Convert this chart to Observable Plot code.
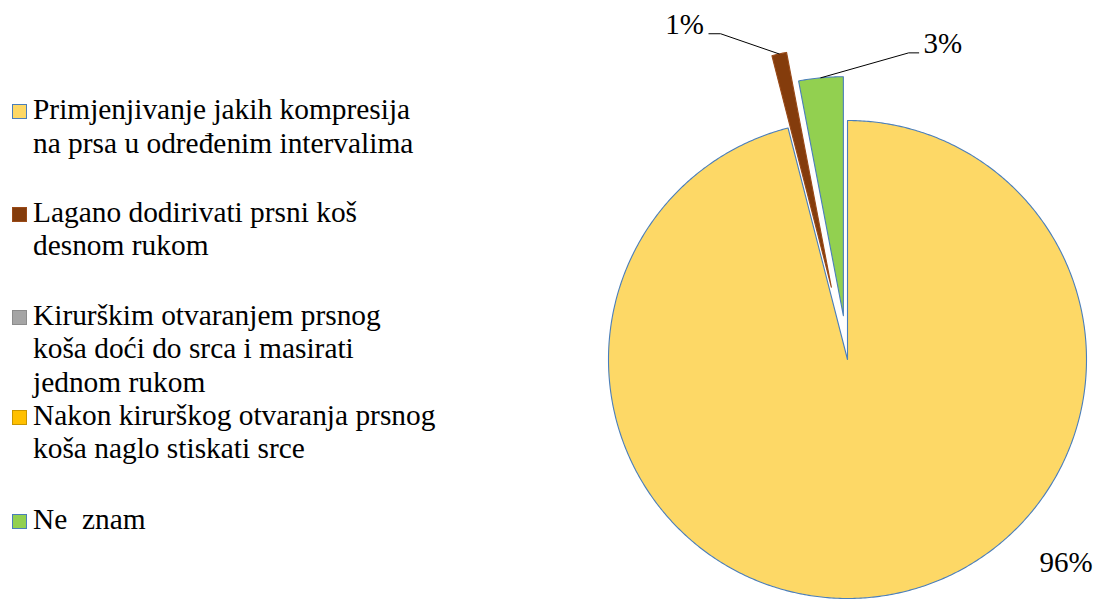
<!DOCTYPE html>
<html>
<head>
<meta charset="utf-8">
<script src="https://cdn.jsdelivr.net/npm/d3@7"></script>
<script src="https://cdn.jsdelivr.net/npm/@observablehq/plot@0.6"></script>
<style>
  html, body { margin: 0; padding: 0; background: #fff; }
  #wrap { position: relative; width: 1099px; height: 599px; overflow: hidden; }
  #chart { position: absolute; left: 0; top: 0; }
  .legend-item { position: absolute; left: 0; font-family: "Liberation Serif", "Times New Roman", serif; font-size: 29.4px; line-height: 33.5px; color: #000; white-space: pre; }
  .legend-item .sw { position: absolute; left: 12px; top: 11px; width: 15px; height: 15px; box-sizing: border-box; border: 1.2px solid; }
  .legend-item .tx { position: absolute; left: 33px; top: 0; }
</style>
</head>
<body>
<div id="wrap">
  <div id="chart"></div>
  <div id="legend"></div>
</div>
<script>
// ---- data ----
const categories = [
  "Primjenjivanje jakih kompresija\nna prsa u određenim intervalima",
  "Lagano dodirivati prsni koš\ndesnom rukom",
  "Kirurškim otvaranjem prsnog\nkoša doći do srca i masirati\njednom rukom",
  "Nakon kirurškog otvaranja prsnog\nkoša naglo stiskati srce",
  "Ne  znam"
];
const values = [96, 1, 0, 0, 3];
const valueLabels = ["96%", "1%", "", "", "3%"];

// ---- style ----
const fills = ["#FDD866", "#843C0C", "#A5A5A5", "#FFC000", "#92D050"];
const strokes = ["#4A7EBB", "#9A4A18", "#8C8C8C", "#C89600", "#4A7EBB"];
const explode = [0, 0.31, 0, 0, 0.184];
// label layout (in radius units, centre = 0,0)
const labelPos = [[0.803, -0.851, "start"], [-0.601, 1.402, "end"], null, null, [0.318, 1.322, "start"]];
const leaderElbow = [null, [[-0.580, 1.363], [-0.531, 1.363]], null, null, [[0.298, 1.283], [0.256, 1.283]]];

const W = 1099, H = 599, cx = 847, cy = 359, R = 239;

const total = d3.sum(values);
let cum = 0;
const slices = values.map((v, i) => {
  const a0 = cum / total * 2 * Math.PI;
  cum += v;
  const a1 = cum / total * 2 * Math.PI;
  const mid = (a0 + a1) / 2;
  const ox = explode[i] * Math.sin(mid), oy = explode[i] * Math.cos(mid);
  return {i, v, a0, a1, mid, ox, oy};
});

function slicePts(s) {
  const pts = [{x: s.ox, y: s.oy}];
  const n = Math.max(2, Math.ceil((s.a1 - s.a0) / (Math.PI / 360)));
  for (let k = 0; k <= n; k++) {
    const a = s.a0 + (s.a1 - s.a0) * k / n;
    pts.push({x: s.ox + Math.sin(a), y: s.oy + Math.cos(a)});
  }
  return pts;
}

const marks = [];
slices.forEach(s => {
  if (s.v <= 0) return;
  marks.push(Plot.line(slicePts(s), {
    x: "x", y: "y", curve: "linear-closed",
    fill: fills[s.i], stroke: strokes[s.i], strokeWidth: 1.1
  }));
});

// leader lines
slices.forEach(s => {
  const el = leaderElbow[s.i];
  if (!el || s.v <= 0) return;
  const outer = {x: s.ox + Math.sin(s.mid), y: s.oy + Math.cos(s.mid)};
  const pts = [{x: el[0][0], y: el[0][1]}, {x: el[1][0], y: el[1][1]}, outer];
  marks.push(Plot.line(pts, {x: "x", y: "y", stroke: "#000", strokeWidth: 1}));
});

const labelData = slices.filter(s => s.v > 0 && labelPos[s.i]).map(s => ({
  x: labelPos[s.i][0], y: labelPos[s.i][1], anchor: labelPos[s.i][2], text: valueLabels[s.i]
}));
["start", "end"].forEach(anchor => {
  marks.push(Plot.text(labelData.filter(d => d.anchor === anchor), {
    x: "x", y: "y", text: "text", textAnchor: anchor,
    fontSize: 29, fontFamily: "'Liberation Serif', 'Times New Roman', serif", fill: "#000"
  }));
});

const chart = Plot.plot({
  width: W, height: H,
  marginTop: 0, marginRight: 0, marginBottom: 0, marginLeft: 0,
  x: {domain: [-cx / R, (W - cx) / R], range: [0, W], axis: null},
  y: {domain: [(cy - H) / R, cy / R], range: [H, 0], axis: null},
  style: {background: "transparent", overflow: "visible"},
  marks
});
document.getElementById("chart").appendChild(chart);

// legend
const legendTops = [93, 195.5, 298.5, 398.5, 503];
const legend = document.getElementById("legend");
categories.forEach((c, i) => {
  const item = document.createElement("div");
  item.className = "legend-item";
  item.style.top = legendTops[i] + "px";
  const sw = document.createElement("span");
  sw.className = "sw";
  sw.style.background = fills[i];
  sw.style.borderColor = strokes[i];
  const tx = document.createElement("span");
  tx.className = "tx";
  tx.textContent = c;
  item.appendChild(sw);
  item.appendChild(tx);
  legend.appendChild(item);
});
</script>
</body>
</html>
